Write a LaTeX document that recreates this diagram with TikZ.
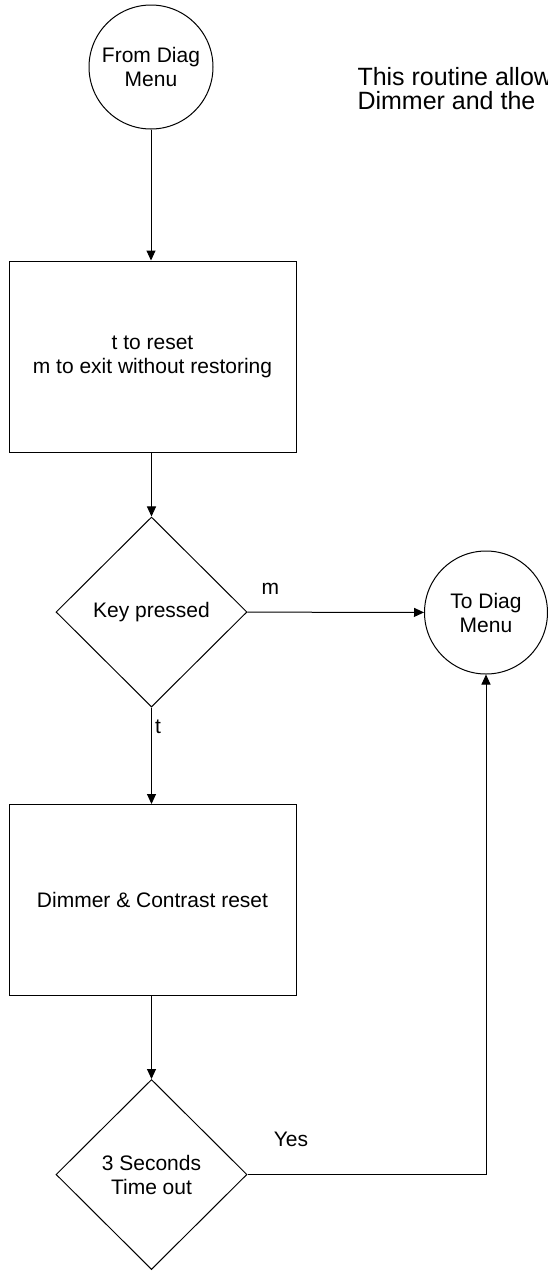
\documentclass[tikz,border=0pt]{standalone}
\usepackage{fontspec}
\setmainfont{Liberation Sans}
\usetikzlibrary{shapes.geometric,arrows.meta}

\begin{document}
\begin{tikzpicture}[x=1pt, y=-1pt, line width=1pt,
		flow/.style={-{Triangle[length=10pt,width=9pt]}},
		txt/.style={font=\fontsize{21}{24}\selectfont, align=center, inner sep=0pt},
		term/.style={draw, circle, txt, minimum size=124pt},
		stepbox/.style={draw, rectangle, txt, minimum width=287pt, minimum height=191pt},
		ask/.style={draw, diamond, txt, minimum width=191pt, minimum height=190pt}]
				\useasboundingbox (0,0) rectangle (548,1278);
				\node[term] (from)at(151, 67) {From Diag\\Menu};
				\node[font=\fontsize{25}{24}\selectfont, align=left, inner sep=0pt, anchor=west] (note)at(357, 89) {This routine allow\\Dimmer and the};
				\node[stepbox] (keys)at(152.5, 356.5) {t to reset\\m to exit without restoring};
				\node[ask] (key)at(151.5, 612) {Key pressed};
				\node[term, minimum size=123pt] (to)at(486, 612.5) {To Diag\\Menu};
				\node[stepbox] (reset)at(152.5, 900) {Dimmer \& Contrast reset};
				\node[ask] (wait)at(151.5, 1174.5) {3 Seconds\\Time out};
				\draw[flow] (from) -- (from |- keys.north);
				\draw[flow] (keys.south -| key) -- (key);
				\draw[flow] (key) -- node[txt, above=17pt, pos=0.13] {m} (to);
				\draw[flow] (key) -- node[txt, right=3pt, pos=0.2] {t} (key |- reset.north);
				\draw[flow] (reset.south -| wait) -- (wait);
				\draw[flow] (wait) -| node[txt, above=27pt, pos=0.091] {Yes} (to);
			\end{tikzpicture}
\end{document}
